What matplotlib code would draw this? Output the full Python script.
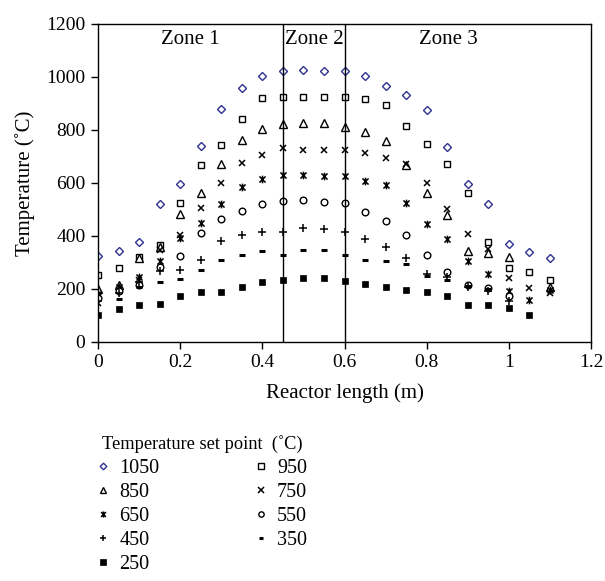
import numpy as np
import matplotlib
matplotlib.use("Agg")
import matplotlib.pyplot as plt
from matplotlib.path import Path

plt.rcParams['font.family'] = ['Liberation Serif', 'DejaVu Serif']

nan = np.nan
length = [0, 0.05, 0.1, 0.15, 0.2, 0.25, 0.3, 0.35, 0.4, 0.45, 0.5, 0.55,
          0.6, 0.65, 0.7, 0.75, 0.8, 0.85, 0.9, 0.95, 1.0, 1.05, 1.1]

t1050 = [322, 342, 375, 520, 596, 739, 879, 960, 1004, 1022, 1025, 1022,
         1022, 1004, 964, 932, 875, 737, 596, 521, 369, 339, 316]
t950 = [253, 277, 320, 365, 523, 666, 744, 841, 920, 926, 925, 926,
        926, 918, 894, 816, 745, 670, 561, 378, 278, 265, 232]
t850 = [200, 214, 316, 356, 483, 563, 671, 762, 802, 821, 825, 825,
        812, 792, 758, 667, 560, 480, 344, 335, 320, nan, 208]
t750 = [145, 195, 233, 348, 404, 505, 598, 675, 704, 730, 725, 725,
        725, 712, 695, 673, 600, 502, 408, 350, 240, 202, 183]
t650 = [180, 205, 246, 303, 392, 447, 519, 586, 613, 628, 628, 625,
        625, 606, 590, 523, 445, 388, 305, 255, 193, 158, 196]
t550 = [165, 190, 215, 281, 325, 409, 465, 494, 519, 533, 537, 527,
        524, 490, 457, 404, 326, 265, 215, 203, 171, nan, nan]
t450 = [155, 185, 225, 268, 272, 307, 379, 403, 413, 415, 430, 426,
        413, 388, 356, 316, 257, 245, 205, 190, 152, nan, nan]
t350 = [185, 163, 205, 227, 236, 269, 307, 329, 344, 329, 345, 345,
        329, 310, 303, 294, 250, 234, 210, 198, nan, nan, nan]
t250 = [101, 122, 139, 143, 172, 188, 188, 207, 225, 234, 239, 239,
        231, 217, 205, 197, 188, 171, 139, 139, 127, 99, nan]

xticks = [0, 0.2, 0.4, 0.6, 0.8, 1.0, 1.2]
xticklabels = ['0', '0.2', '0.4', '0.6', '0.8', '1', '1.2']
yticks = [0, 200, 400, 600, 800, 1000, 1200]
zone_bounds = [0.45, 0.6]

# asterisk-like marker: X plus vertical bar
star_path = Path([(-1, -1), (1, 1), (-1, 1), (1, -1), (0, -1.25), (0, 1.25)],
                 [Path.MOVETO, Path.LINETO, Path.MOVETO, Path.LINETO,
                  Path.MOVETO, Path.LINETO])

fig = plt.figure(figsize=(6.05, 5.81), dpi=100)
ax = fig.add_axes([98/605, 1-341.7/581, (591-98)/605, (341.7-24)/581])

series = [
    ('1050', t1050, dict(marker='D', ms=4.2, mfc='white', mec='#2e3192', mew=1.0, ls='none')),
    ('950', t950, dict(marker='s', ms=4.8, mfc='white', mec='black', mew=1.0, ls='none')),
    ('850', t850, dict(marker='^', ms=5.2, mfc='white', mec='black', mew=1.0, ls='none')),
    ('750', t750, dict(marker='x', ms=5.0, mec='black', mew=1.1, ls='none')),
    ('650', t650, dict(marker=star_path, ms=5.5, mec='black', mew=1.1, ls='none')),
    ('550', t550, dict(marker='o', ms=4.8, mfc='white', mec='black', mew=1.0, ls='none')),
    ('450', t450, dict(marker='+', ms=6.0, mec='black', mew=1.1, ls='none')),
    ('350', t350, dict(marker='_', ms=4.0, mec='black', mew=2.2, ls='none')),
    ('250', t250, dict(marker='s', ms=5.0, mfc='black', mec='black', mew=0.5, ls='none')),
]

handles = {}
for name, vals, kw in series:
    h, = ax.plot(length, vals, label=name, **kw)
    handles[name] = h

for b in zone_bounds:
    ax.axvline(b, color='black', lw=1.0)

ax.set_xlim(0, 1.2)
ax.set_ylim(0, 1200)
ax.set_xticks(xticks)
ax.set_xticklabels(xticklabels)
ax.set_yticks(yticks)
ax.tick_params(direction='out', length=5, width=1, labelsize=14, pad=4)
for s in ax.spines.values():
    s.set_linewidth(1.0)

ax.set_xlabel('Reactor length (m)', fontsize=15, labelpad=9)
ax.set_ylabel('Temperature (˚C)', fontsize=15, labelpad=8)

ax.text(0.224, 1143, 'Zone 1', ha='center', va='center', fontsize=15)
ax.text(0.456, 1143, 'Zone 2', ha='left', va='center', fontsize=15)
ax.text(0.854, 1143, 'Zone 3', ha='center', va='center', fontsize=15)

fig.text(102/605, 1-444/581, 'Temperature set point  (˚C)', fontsize=13.2,
         ha='left', va='center')

order = ['1050', '850', '650', '450', '250', '950', '750', '550', '350']
leg = fig.legend([handles[k] for k in order], order, ncol=2, frameon=False,
                 loc='upper left', bbox_to_anchor=(96/605, 1-459/581),
                 fontsize=14.5, handlelength=0.7,
                 handletextpad=0.45, columnspacing=4.7, labelspacing=0.24,
                 markerscale=0.8, borderaxespad=0, borderpad=0)

fig.savefig('out.png', dpi=100)
